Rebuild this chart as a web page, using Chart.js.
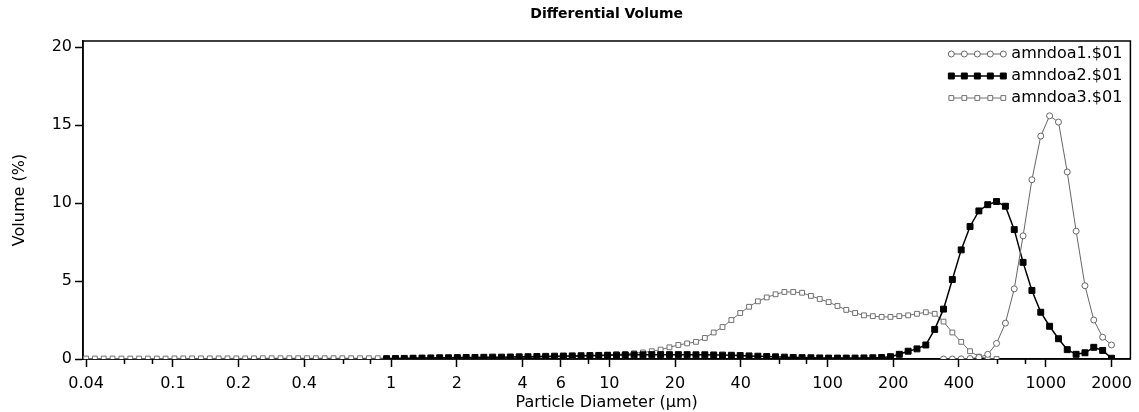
<!DOCTYPE html>
<html>
<head>
<meta charset="utf-8">
<title>Differential Volume</title>
<script src="https://cdn.jsdelivr.net/npm/chart.js@4.4.0/dist/chart.umd.min.js"></script>
<style>
  html, body { margin: 0; padding: 0; background: #fff; }
</style>
</head>
<body>
<canvas id="psdChart" width="1139" height="412"></canvas>
<script>
// channel diameters (um), same grid for all three runs
const sizes = [
  0.0400, 0.0439, 0.0482, 0.0529, 0.0581, 0.0638, 0.0700, 0.0768, 0.0844, 0.0926,
  0.1017, 0.1116, 0.1225, 0.1345, 0.1476, 0.1621, 0.1779, 0.1953, 0.2144, 0.2353,
  0.2583, 0.2836, 0.3113, 0.3417, 0.3751, 0.4118, 0.4520, 0.4962, 0.5447, 0.5979,
  0.6564, 0.7205, 0.7909, 0.8682, 0.9535, 1.047, 1.149, 1.261, 1.385, 1.520,
  1.669, 1.832, 2.011, 2.208, 2.423, 2.660, 2.920, 3.206, 3.519, 3.863,
  4.240, 4.655, 5.110, 5.609, 6.157, 6.761, 7.421, 8.147, 8.943, 9.818,
  10.78, 11.83, 12.99, 14.26, 15.65, 17.18, 18.86, 20.71, 22.73, 24.95,
  27.39, 30.07, 33.01, 36.24, 39.78, 43.67, 47.94, 52.62, 57.77, 63.41,
  69.61, 76.42, 83.89, 92.09, 101.1, 111.0, 121.8, 133.7, 146.8, 161.2,
  176.9, 194.2, 213.2, 234.0, 256.9, 282.0, 309.7, 339.9, 373.1, 409.6,
  449.7, 493.6, 541.9, 594.8, 653.0, 716.8, 786.9, 863.8, 948.3, 1041,
  1143, 1254, 1377, 1512, 1659, 1822, 2000
];

const seriesNames = ['amndoa1.$01', 'amndoa2.$01', 'amndoa3.$01'];

// volume % per channel, each run starts at its own channel index
const amndoa1Start = 97;
const amndoa1 = [
  0, 0, 0.01, 0.03, 0.1, 0.3, 1.0, 2.3, 4.5, 7.9,
  11.5, 14.3, 15.6, 15.2, 12.0, 8.2, 4.7, 2.5, 1.4, 0.9
];

const amndoa2Start = 34;
const amndoa2 = [
  0.02, 0.03, 0.04, 0.05, 0.06, 0.07, 0.08, 0.08, 0.09, 0.10,
  0.10, 0.11, 0.12, 0.12, 0.13, 0.14, 0.15, 0.16, 0.17, 0.18,
  0.19, 0.20, 0.21, 0.22, 0.23, 0.24, 0.25, 0.26, 0.27, 0.27,
  0.28, 0.28, 0.28, 0.28, 0.28, 0.27, 0.27, 0.26, 0.25, 0.24,
  0.22, 0.20, 0.18, 0.16, 0.14, 0.12, 0.10, 0.09, 0.08, 0.07,
  0.06, 0.06, 0.06, 0.06, 0.07, 0.08, 0.10, 0.15, 0.30, 0.50,
  0.65, 0.90, 1.9, 3.2, 5.1, 7.0, 8.5, 9.5, 9.9, 10.1,
  9.8, 8.3, 6.2, 4.4, 3.0, 2.1, 1.3, 0.6, 0.3, 0.4,
  0.75, 0.55, 0.05
];

const amndoa3Start = 0;
const amndoa3 = [
  0.03, 0.03, 0.03, 0.03, 0.03, 0.03, 0.03, 0.03, 0.03, 0.03,
  0.04, 0.04, 0.04, 0.04, 0.04, 0.04, 0.04, 0.04, 0.04, 0.04,
  0.05, 0.05, 0.05, 0.05, 0.05, 0.05, 0.05, 0.05, 0.05, 0.05,
  0.05, 0.05, 0.05, 0.05, 0.05, 0.06, 0.06, 0.06, 0.06, 0.06,
  0.07, 0.07, 0.07, 0.07, 0.07, 0.08, 0.08, 0.08, 0.08, 0.08,
  0.10, 0.11, 0.12, 0.13, 0.14, 0.15, 0.17, 0.20, 0.22, 0.27,
  0.30, 0.33, 0.37, 0.42, 0.50, 0.60, 0.75, 0.90, 1.0, 1.1,
  1.35, 1.7, 2.05, 2.5, 2.95, 3.35, 3.7, 3.95, 4.15, 4.3,
  4.3, 4.25, 4.05, 3.85, 3.65, 3.4, 3.15, 2.95, 2.8, 2.75,
  2.7, 2.7, 2.75, 2.8, 2.9, 3.0, 2.9, 2.4, 1.7, 1.1,
  0.5, 0.15, 0.03, 0
];

const xTickValues = [0.04, 0.06, 0.08, 0.1, 0.2, 0.4, 0.6, 0.8, 1, 2, 4, 6, 8, 10, 20, 40, 60, 80, 100, 200, 400, 600, 800, 1000, 2000];
const xTickLabels = ['0.04', '', '', '0.1', '0.2', '0.4', '', '', '1', '2', '4', '6', '', '10', '20', '40', '', '', '100', '200', '400', '', '', '1000', '2000'];
const yTickValues = [0, 5, 10, 15, 20];

function toPoints(start, vals) {
  return vals.map((v, k) => ({ x: sizes[start + k], y: v }));
}

const FONT = '"DejaVu Sans", "Liberation Sans", sans-serif';

// short ticks for the unlabelled x positions
const minorTicks = {
  id: 'minorTicks',
  afterDraw(chart) {
    const ctx = chart.ctx;
    const xs = chart.scales.x;
    const bottom = chart.chartArea.bottom;
    ctx.save();
    ctx.strokeStyle = '#000';
    ctx.lineWidth = 1.5;
    xTickValues.forEach((v, i) => {
      if (xTickLabels[i] !== '') return;
      const px = Math.round(xs.getPixelForValue(v)) + 0.5;
      ctx.beginPath();
      ctx.moveTo(px, bottom);
      ctx.lineTo(px, bottom + 5);
      ctx.stroke();
    });
    ctx.restore();
  }
};

// box round the plot area
const frame = {
  id: 'frame',
  beforeDatasetsDraw(chart) {
    const { ctx, chartArea: a } = chart;
    ctx.save();
    ctx.strokeStyle = '#000';
    ctx.lineWidth = 1.5;
    ctx.strokeRect(a.left, a.top, a.right - a.left, a.bottom - a.top);
    ctx.restore();
  }
};

// legend in the top right corner, five markers on a line per run
const cornerLegend = {
  id: 'cornerLegend',
  afterDraw(chart) {
    const { ctx, chartArea: a } = chart;
    ctx.save();
    ctx.font = '16px ' + FONT;
    ctx.textBaseline = 'middle';
    chart.data.datasets.forEach((ds, i) => {
      const y = a.top + 13 + i * 22;
      const w = ctx.measureText(ds.label).width;
      const textX = a.right - 8 - w;
      const x0 = textX - 60, x1 = textX - 8;
      ctx.strokeStyle = ds.borderColor;
      ctx.lineWidth = ds.borderWidth;
      ctx.beginPath();
      ctx.moveTo(x0, y);
      ctx.lineTo(x1, y);
      ctx.stroke();
      for (let k = 0; k < 5; k++) {
        ctx.fillStyle = ds.pointBackgroundColor;
        ctx.strokeStyle = ds.pointBorderColor;
        ctx.lineWidth = ds.pointBorderWidth;
        Chart.helpers.drawPoint(ctx, {
          pointStyle: ds.pointStyle, radius: ds.pointRadius, borderWidth: ds.pointBorderWidth, rotation: 0
        }, x0 + k * (x1 - x0) / 4, y);
      }
      ctx.fillStyle = '#000';
      ctx.fillText(ds.label, textX, y);
    });
    ctx.restore();
  }
};

new Chart(document.getElementById('psdChart'), {
  type: 'line',
  data: {
    datasets: [
      {
        label: seriesNames[0],
        data: toPoints(amndoa1Start, amndoa1),
        borderColor: '#666',
        borderWidth: 1,
        pointStyle: 'circle',
        pointRadius: 3,
        pointBorderWidth: 1,
        pointBorderColor: '#666',
        pointBackgroundColor: '#fff',
        tension: 0
      },
      {
        label: seriesNames[1],
        data: toPoints(amndoa2Start, amndoa2),
        borderColor: '#000',
        borderWidth: 1.5,
        pointStyle: 'rect',
        pointRadius: 4.2,
        pointBorderWidth: 1,
        pointBorderColor: '#000',
        pointBackgroundColor: '#000',
        tension: 0
      },
      {
        label: seriesNames[2],
        data: toPoints(amndoa3Start, amndoa3),
        borderColor: '#707070',
        borderWidth: 1,
        pointStyle: 'rect',
        pointRadius: 3.4,
        pointBorderWidth: 1,
        pointBorderColor: '#707070',
        pointBackgroundColor: '#fff',
        tension: 0
      }
    ]
  },
  options: {
    responsive: false,
    animation: false,
    layout: { padding: { left: 0, right: 4, top: 0, bottom: 0 } },
    plugins: {
      legend: { display: false },
      tooltip: { enabled: false },
      title: {
        display: true,
        text: 'Differential Volume',
        fullSize: false,
        color: '#000',
        font: { family: FONT, size: 14, weight: 'bold', lineHeight: 1.2 },
        padding: { top: 6, bottom: 18.2 }
      }
    },
    scales: {
      x: {
        type: 'logarithmic',
        min: 0.03874,
        max: 2442,
        afterBuildTicks: s => { s.ticks = xTickValues.map(v => ({ value: v })); },
        afterFit: s => { s.height = 53; },
        ticks: {
          autoSkip: false,
          maxRotation: 0,
          padding: 7,
          color: '#000',
          font: { family: FONT, size: 16 },
          callback: (v, i) => xTickLabels[i]
        },
        grid: {
          drawOnChartArea: false,
          tickLength: 8,
          tickWidth: 1.5,
          tickColor: c => (xTickLabels[c.index] === '' ? 'rgba(0,0,0,0)' : '#000')
        },
        border: { display: true, color: '#000', width: 1.5 },
        title: {
          display: true,
          text: 'Particle Diameter (µm)',
          color: '#000',
          font: { family: FONT, size: 16 },
          padding: { top: 0, bottom: 0 }
        }
      },
      y: {
        min: 0,
        max: 20.4,
        afterBuildTicks: s => { s.ticks = yTickValues.map(v => ({ value: v })); },
        afterFit: s => { s.width = 83; },
        ticks: {
          padding: 3,
          color: '#000',
          font: { family: FONT, size: 16 }
        },
        grid: {
          drawOnChartArea: false,
          tickLength: 8,
          tickWidth: 1.5,
          tickColor: '#000'
        },
        border: { display: true, color: '#000', width: 1.5 },
        title: {
          display: true,
          text: 'Volume (%)',
          color: '#000',
          font: { family: FONT, size: 16 },
          padding: { top: 10, bottom: 0 }
        }
      }
    }
  },
  plugins: [frame, minorTicks, cornerLegend]
});
</script>
</body>
</html>
